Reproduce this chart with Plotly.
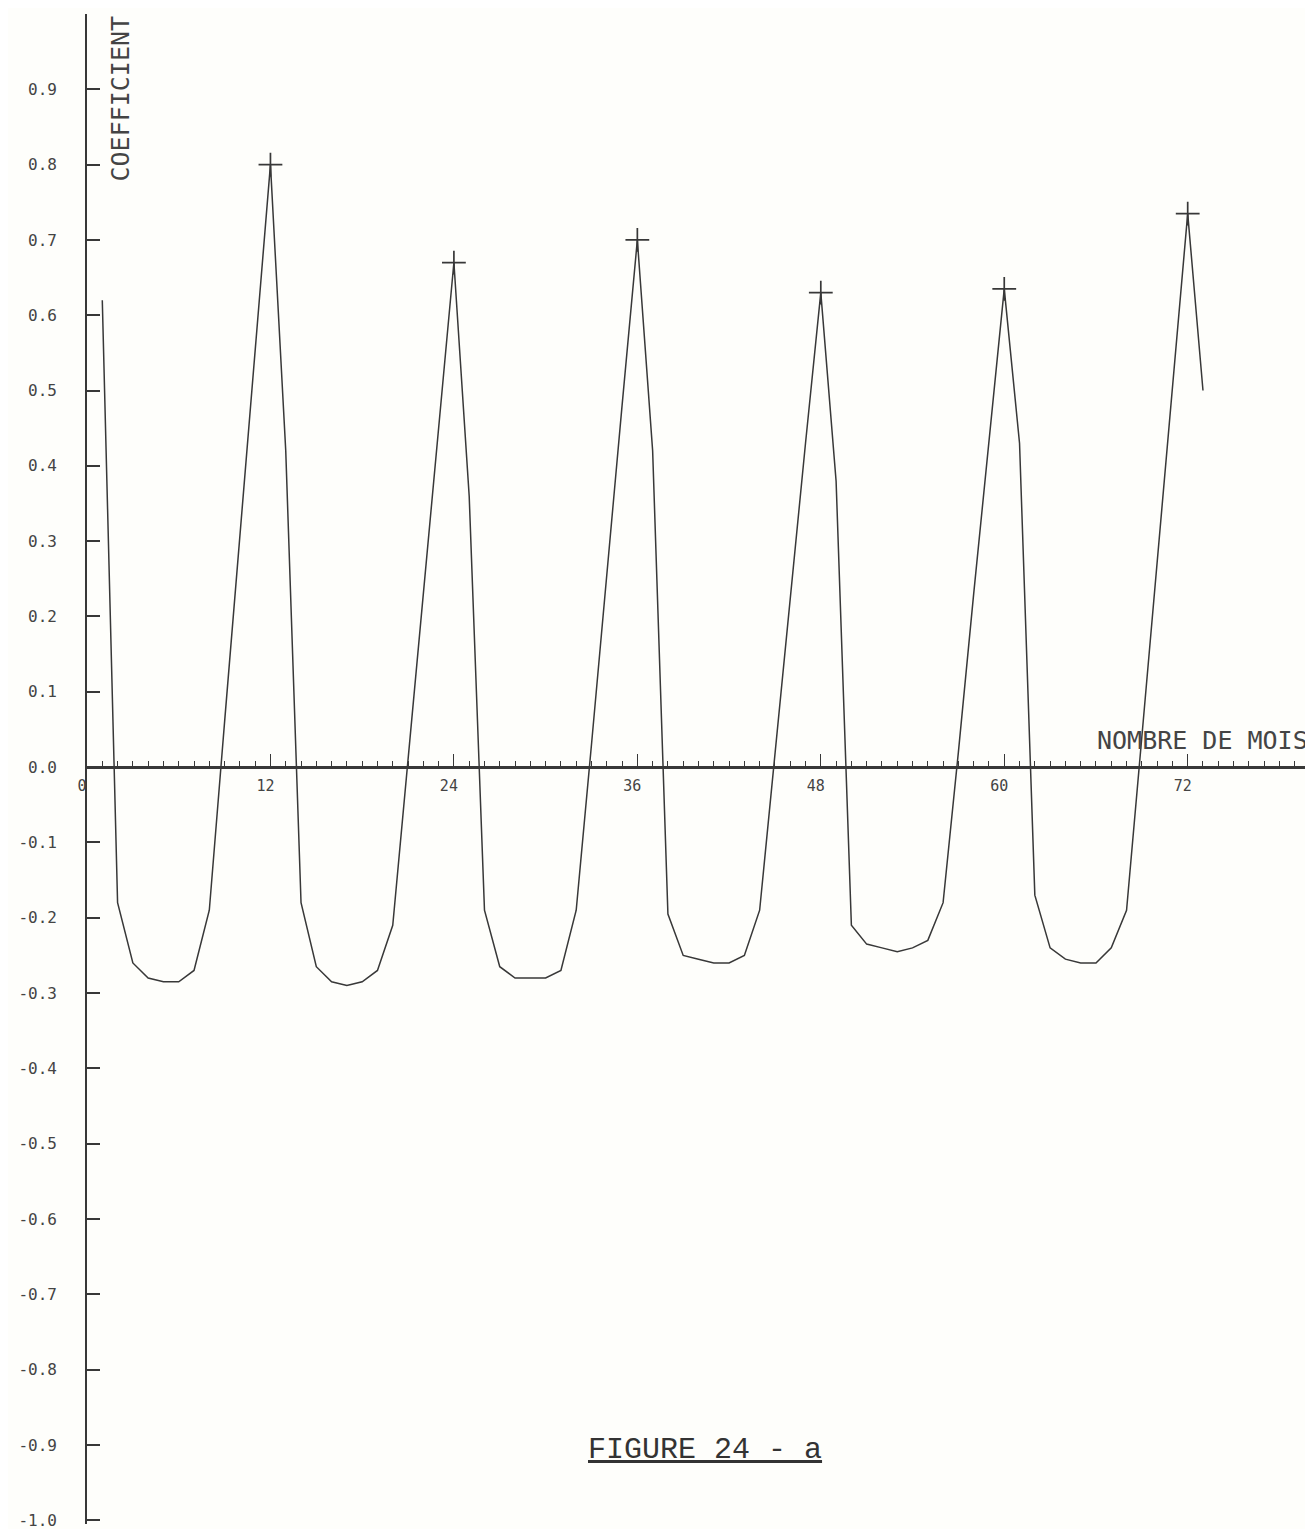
import plotly.graph_objects as go

# === Dados === #
lags = list(range(1, 74))  # nombre de mois (décalage)
coef = [
    0.62, -0.18, -0.26, -0.28, -0.285, -0.285, -0.27, -0.19, 0.06, 0.31, 0.56, 0.80,
    0.42, -0.18, -0.265, -0.285, -0.29, -0.285, -0.27, -0.21, 0.01, 0.23, 0.45, 0.67,
    0.36, -0.19, -0.265, -0.28, -0.28, -0.28, -0.27, -0.19, 0.03, 0.26, 0.48, 0.70,
    0.42, -0.195, -0.25, -0.255, -0.26, -0.26, -0.25, -0.19, 0.02, 0.22, 0.43, 0.63,
    0.38, -0.21, -0.235, -0.24, -0.245, -0.24, -0.23, -0.18, 0.02, 0.23, 0.43, 0.635,
    0.43, -0.17, -0.24, -0.255, -0.26, -0.26, -0.24, -0.19, 0.04, 0.27, 0.50, 0.735,
    0.50,
]
pic_lags = [12, 24, 36, 48, 60, 72]
pic_vals = [coef[lags.index(k)] for k in pic_lags]

y_ticks = [0.9, 0.8, 0.7, 0.6, 0.5, 0.4, 0.3, 0.2, 0.1, 0.0,
           -0.1, -0.2, -0.3, -0.4, -0.5, -0.6, -0.7, -0.8, -0.9, -1.0]
y_labels = ["0.9", "0.8", "0.7", "0.6", "0.5", "0.4", "0.3", "0.2", "0.1", "0.0",
            "-0.1", "-0.2", "-0.3", "-0.4", "-0.5", "-0.6", "-0.7", "-0.8", "-0.9", "-1.0"]
x_ticks = [0, 12, 24, 36, 48, 60, 72]
x_labels = ["0", "12", "24", "36", "48", "60", "72"]

ink = "#383838"
fonte = "DejaVu Sans Mono"

y_min, y_max = -1.005, 1.0

# === Plot === #
fig = go.Figure()
fig.add_trace(
    go.Scatter(
        x=lags,
        y=coef,
        mode="lines",
        line=dict(color=ink, width=1.5),
        showlegend=False,
    )
)
fig.add_trace(
    go.Scatter(
        x=pic_lags,
        y=pic_vals,
        mode="markers",
        marker=dict(symbol="cross-thin", size=17, line=dict(color=ink, width=1.7)),
        showlegend=False,
    )
)

# a página tem 8px de margem no body: figura um pouco menor que a janela
fig.update_layout(
    width=1305,
    height=1521,
    margin=dict(l=79, r=3, t=6, b=5),
    plot_bgcolor="#fefefb",
    paper_bgcolor="#fefefb",
    xaxis=dict(
        range=[0, 80],
        anchor="free",
        position=(0 - y_min) / (y_max - y_min),  # eixo x em y = 0
        automargin=False,
        showline=True,
        linecolor=ink,
        linewidth=2.5,
        showgrid=False,
        zeroline=False,
        tickmode="array",
        tickvals=x_ticks,
        ticktext=x_labels,
        ticks="inside",
        ticklen=12,
        tickwidth=1.3,
        tickcolor=ink,
        ticklabelshift=-5,
        ticklabelstandoff=4,
        tickfont=dict(family=fonte, size=15, color="#444"),
        minor=dict(dtick=1, tick0=0, ticks="inside", ticklen=5, tickwidth=1.2, tickcolor=ink),
    ),
    yaxis=dict(
        range=[y_min, y_max],
        automargin=False,
        showline=True,
        linecolor=ink,
        linewidth=1.6,
        showgrid=False,
        zeroline=False,
        tickmode="array",
        tickvals=y_ticks,
        ticktext=y_labels,
        ticks="inside",
        ticklen=13,
        tickwidth=1.5,
        tickcolor=ink,
        ticklabelstandoff=25,
        ticklabeloverflow="allow",
        tickfont=dict(family=fonte, size=16, color="#444"),
    ),
)

fig.add_annotation(
    text="COEFFICIENT",
    x=0, xref="x", xanchor="left", xshift=16,
    y=1.0, yref="y", yanchor="top",
    textangle=-90,
    showarrow=False,
    font=dict(family=fonte, size=25, color="#444"),
)
fig.add_annotation(
    text="NOMBRE DE MOIS",
    x=80, xref="x", xanchor="right",
    y=0.0, yref="y", yanchor="bottom", yshift=10,
    showarrow=False,
    font=dict(family=fonte, size=25, color="#444"),
)
fig.add_annotation(
    text="<u>FIGURE 24 - a</u>",
    x=40.4, xref="x", xanchor="center",
    y=-0.907, yref="y", yanchor="middle",
    showarrow=False,
    font=dict(family="Liberation Mono", size=30, color="#333"),
)

fig.write_html("out.html")
